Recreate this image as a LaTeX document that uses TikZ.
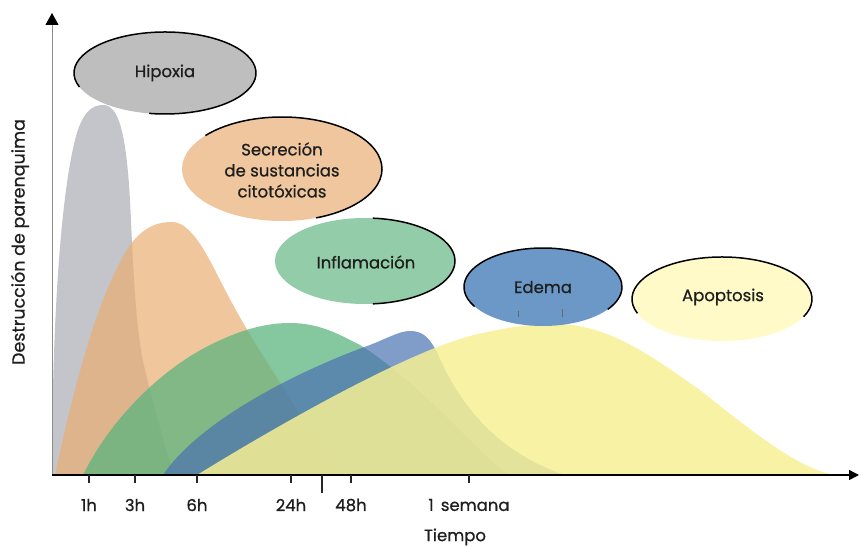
\documentclass[tikz,border=0pt]{standalone}
\usepackage{fontspec}
\setmainfont{Poppins}[FakeBold=0.7]
\usetikzlibrary{arrows.meta}
\definecolor{cgray}{RGB}{170,172,180}
\definecolor{corange}{RGB}{234,174,114}
\definecolor{cgreen}{RGB}{92,180,126}
\definecolor{cblue}{RGB}{74,114,178}
\definecolor{cyellow}{RGB}{247,240,149}
\definecolor{egray}{RGB}{190,190,190}
\definecolor{eorange}{RGB}{240,198,158}
\definecolor{egreen}{RGB}{146,204,168}
\definecolor{eblue}{RGB}{108,152,200}
\definecolor{eyellow}{RGB}{255,250,200}
\definecolor{txt}{RGB}{30,30,30}
\tikzset{
  curve/.style={fill opacity=0.7},
  rim/.style={line width=1.5pt, black},
  lbl/.style={text=txt, font=\fontsize{16.5}{19}\selectfont, align=center, inner sep=0pt},
  ticklbl/.style={text=txt, font=\fontsize{16.5}{19}\selectfont, inner sep=0pt},
  tick/.style={line width=1.2pt, black!85},
}
\begin{document}
\begin{tikzpicture}[x=1pt,y=-1pt]
\useasboundingbox (0,0) rectangle (859,548);
% curves
\fill[curve, cgray] (52,475) .. controls (52,330) and (60,200) .. (75,140) .. controls (82,112) and (92,105) .. (103,105) .. controls (118,105) and (126,130) .. (130,200) .. controls (133,260) and (135,330) .. (145,370) .. controls (155,410) and (165,450) .. (175,475) -- cycle;
\fill[curve, corange] (55,475) .. controls (75,380) and (100,290) .. (130,245) .. controls (145,225) and (160,222) .. (172,222) .. controls (190,222) and (205,250) .. (220,280) .. controls (240,320) and (265,360) .. (285,390) .. controls (305,425) and (325,455) .. (345,475) -- cycle;
\fill[cgreen, fill opacity=0.75] (83,475) .. controls (110,420) and (160,370) .. (210,345) .. controls (240,330) and (265,323) .. (290,323) .. controls (320,323) and (340,335) .. (360,345) .. controls (400,370) and (440,410) .. (470,440) .. controls (490,460) and (500,470) .. (510,475) -- cycle;
\fill[curve, cblue] (163,475) .. controls (200,420) and (300,370) .. (370,345) .. controls (390,337) and (400,331) .. (410,331) .. controls (425,331) and (430,340) .. (437,352) .. controls (455,395) and (490,450) .. (565,475) -- cycle;
\fill[cyellow, fill opacity=0.85] (197,475) .. controls (270,430) and (400,355) .. (470,336) .. controls (510,326) and (540,323) .. (560,324) .. controls (610,326) and (650,355) .. (700,390) .. controls (750,430) and (800,470) .. (835,475) -- cycle;
% axes
\coordinate (O) at (52,475);
\coordinate (ytop) at (52,13);
\coordinate (xend) at (859,475);
\draw[black!45, line width=0.8pt, -{Triangle[length=12pt,width=13pt,black]}] (O) -- (ytop);
\draw[black, line width=1.4pt, -{Triangle[length=10pt,width=10pt]}] (O) -- (xend);
% ticks
\foreach \n/\x/\t in {t1/89/1h, t3/135/3h, t6/197/6h, t24/291/24h, t48/351/48h, tw/469/1\ \,semana}{
  \coordinate (\n a) at (\x,475);
  \coordinate (\n b) at (\x,483);
  \draw[tick] (\n a) -- (\n b);
  \node[ticklbl] (\n l) at (\x,505) {\t};
}
\coordinate (tla) at (322,475);
\coordinate (tlb) at (322,493);
\draw[tick] (tla) -- (tlb);
\node[ticklbl] (tiempo) at (455,537) {Tiempo};
\node[ticklbl, rotate=90, font=\fontsize{17.5}{19}\selectfont] (ylab) at (20,242) {Destrucción de parenquima};
% bubbles
\fill[egray] (165,73) ellipse[x radius=91, y radius=41];
\draw[rim] (165,73) ++(160:91 and 41) arc[start angle=160, end angle=460, x radius=91, y radius=41];
\node[lbl] (hip) at (165,73) {Hipoxia};

\fill[eorange] (282,169) ellipse[x radius=100, y radius=52];
\draw[rim] (282,169) ++(220:100 and 52) arc[start angle=220, end angle=430, x radius=100, y radius=52];
\node[lbl] (sec) at (282,170) {Secreción\\[2pt]de sustancias\\[2pt]citotóxicas};

\fill[egreen] (365,261) ellipse[x radius=90, y radius=43];
\draw[rim] (365,261) ++(275:90 and 43) arc[start angle=275, end angle=445, x radius=90, y radius=43];
\node[lbl] (inf) at (366,262) {Inflamación};

\fill[eblue] (543,287) ellipse[x radius=79, y radius=39];
\draw[rim] (543,287) ++(150:79 and 39) arc[start angle=150, end angle=395, x radius=79, y radius=39];
\node[lbl] (ede) at (543,287) {Edema};
\coordinate (ek1a) at (518,311); \coordinate (ek1b) at (518,317);
\coordinate (ek2a) at (562,309); \coordinate (ek2b) at (562,317);
\draw[black!60, line width=0.8pt] (ek1a) -- (ek1b) (ek2a) -- (ek2b);

\fill[eyellow] (722,299) ellipse[x radius=90, y radius=42];
\draw[rim] (722,299) ++(160:90 and 42) arc[start angle=160, end angle=385, x radius=90, y radius=42];
\node[lbl] (apo) at (723,297) {Apoptosis};
\end{tikzpicture}
\end{document}
